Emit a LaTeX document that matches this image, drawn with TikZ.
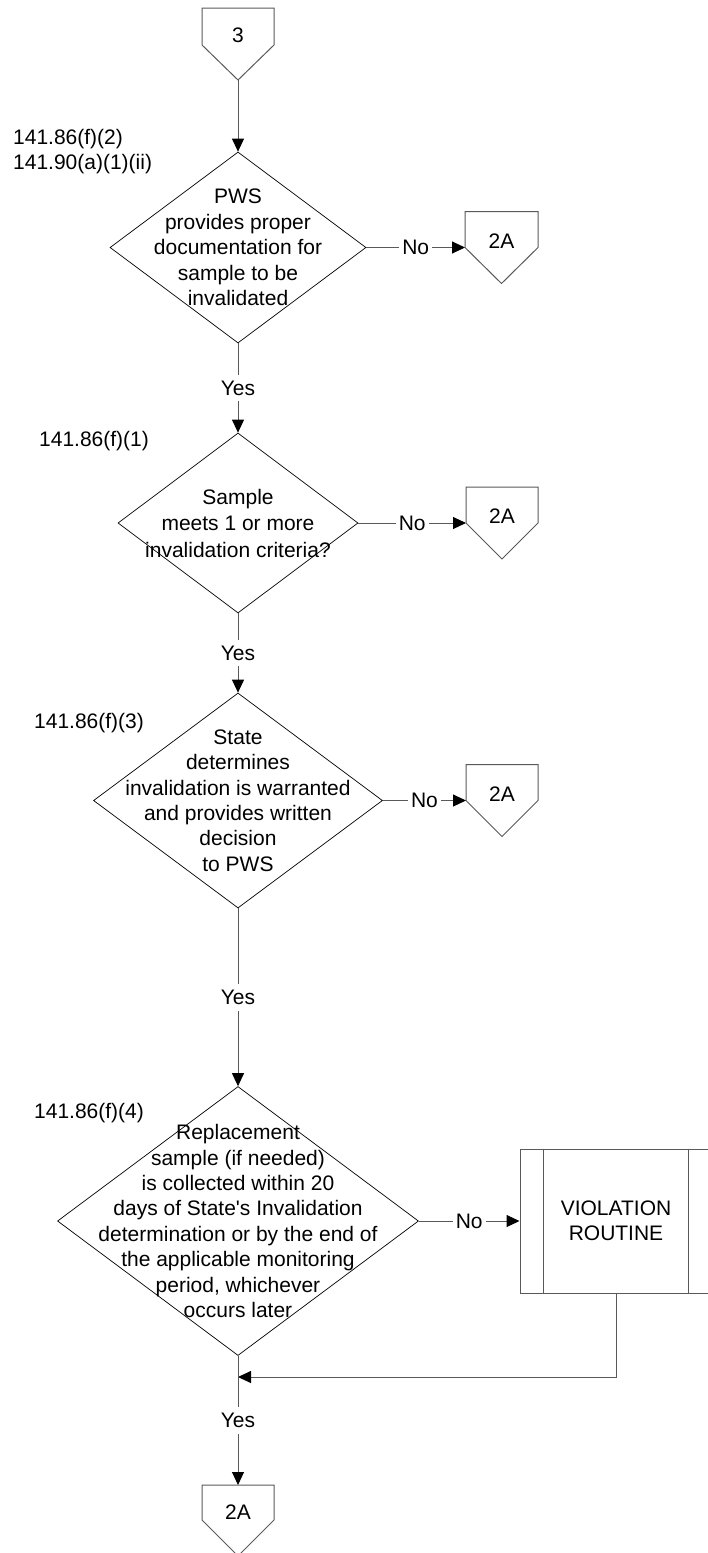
\documentclass[tikz,border=0pt]{standalone}
\usepackage{fontspec}
\setmainfont{Liberation Sans}
\usetikzlibrary{arrows.meta,shapes.geometric}
\begin{document}
\begin{tikzpicture}[x=1pt,y=-1pt,
  dia/.style={draw=black, line width=0.7pt, shape=diamond, inner sep=0pt},
  txt/.style={align=center, inner sep=0pt, font=\fontsize{21}{25.4}\selectfont},
  lbl/.style={anchor=west, align=left, inner sep=0pt, font=\fontsize{21}{25.4}\selectfont},
  conn/.style={draw=black!65, line width=1pt},
  arr/.style={conn, -{Triangle[length=13pt,width=12pt,color=black]}},
  yn/.style={fill=white, inner xsep=3pt, inner ysep=6pt, font=\fontsize{21}{25}\selectfont},
  offp/.style={draw=black!65, line width=1pt, line join=miter},
  vbox/.style={draw=black!65, line width=1pt, minimum width=192pt, minimum height=144pt, align=center, inner sep=0pt, font=\fontsize{21}{25}\selectfont},
]
\useasboundingbox (0,0) rectangle (707,1553);

% off-page connector 3 (top)
\draw[offp] (202,8) -- (274,8) -- (274,45) -- (238,80) -- (202,45) -- cycle;
\node[txt] (p3) at (238,35) {3};
\coordinate (p3tip) at (238,80);

% decision 1
\node[dia, minimum width=256pt, minimum height=191pt] (d1) at (238,247.5) {};
\node[txt] (d1t) at (238,247.5) {PWS\\provides proper\\documentation for\\sample to be\\invalidated};
\node[lbl] (r1) at (13,151.5) {141.86(f)(2)\\141.90(a)(1)(ii)};

% 2A off-page connector 1
\draw[offp] (465,211.5) -- (538,211.5) -- (538,247.5) -- (501.5,283.5) -- (465,247.5) -- cycle;
\node[txt] (a1) at (501.5,241) {2A};
\coordinate (a1c) at (465,247.5);

% decision 2
\node[dia, minimum width=240pt, minimum height=180pt] (d2) at (238,523) {};
\node[txt, font=\fontsize{21}{26.5}\selectfont] (d2t) at (238,523) {Sample\\meets 1 or more\\invalidation criteria?};
\node[lbl] (r2) at (39,441) {141.86(f)(1)};

\draw[offp] (466,487) -- (538,487) -- (538,523) -- (502,559) -- (466,523) -- cycle;
\node[txt] (a2) at (502,516) {2A};
\coordinate (a2c) at (466,523);

% decision 3
\node[dia, minimum width=289pt, minimum height=215pt] (d3) at (238,800.5) {};
\node[txt] (d3t) at (238,800.5) {State\\determines\\invalidation is warranted\\and provides written\\decision\\to PWS};
\node[lbl] (r3) at (34,723) {141.86(f)(3)};

\draw[offp] (466,764.5) -- (538,764.5) -- (538,800.5) -- (502,836.5) -- (466,800.5) -- cycle;
\node[txt] (a3) at (502,794) {2A};
\coordinate (a3c) at (466,800.5);

% decision 4
\node[dia, minimum width=361pt, minimum height=269pt] (d4) at (238,1221) {};
\node[txt] (d4t) at (238,1221) {Replacement\\sample (if needed)\\is collected within 20\\days of State\textquotesingle s Invalidation\\determination or by the end of\\the applicable monitoring\\period, whichever\\occurs later};
\node[lbl] (r4) at (34,1113) {141.86(f)(4)};

% violation routine
\node[vbox] (vr) at (616,1221) {VIOLATION\\ROUTINE};
\draw[offp] ([xshift=24pt]vr.north west) -- ([xshift=24pt]vr.south west);
\draw[offp] ([xshift=-24pt]vr.north east) -- ([xshift=-24pt]vr.south east);

% final 2A
\draw[offp] (202,1485) -- (274,1485) -- (274,1520) -- (238,1556) -- (202,1520) -- cycle;
\node[txt] (a4) at (238,1512) {2A};
\coordinate (a4top) at (238,1485);
\coordinate (join) at (238,1377);

% connectors
\draw[arr] (p3tip) -- (d1.north);
\draw[arr] (d1.east) -- node[yn] {No} (a1c);
\draw[arr] (d1.south) -- node[yn] {Yes} (d2.north);
\draw[arr] (d2.east) -- node[yn] {No} (a2c);
\draw[arr] (d2.south) -- node[yn] {Yes} (d3.north);
\draw[arr] (d3.east) -- node[yn] {No} (a3c);
\draw[arr] (d3.south) -- node[yn] {Yes} (d4.north);
\draw[arr] (d4.east) -- node[yn] {No} (vr.west);
\draw[arr] (vr.south) |- (join);
\draw[arr] (d4.south) -- node[yn, pos=0.5] {Yes} (a4top);
\end{tikzpicture}
\end{document}
